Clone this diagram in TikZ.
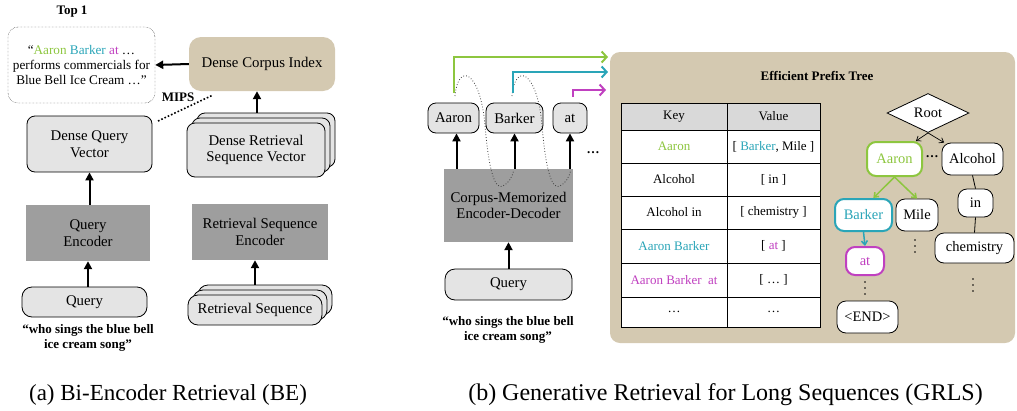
\documentclass[tikz,border=0pt]{standalone}
\usepackage{fontspec}
\setmainfont{Liberation Serif}
\usetikzlibrary{arrows.meta,shapes.geometric,shadows}
\definecolor{aaroncol}{HTML}{8DC63F}
\definecolor{barkercol}{HTML}{2AA5B8}
\definecolor{atcol}{HTML}{C040C0}
\definecolor{panelbg}{HTML}{D4C9B1}
\definecolor{boxgray}{HTML}{E4E4E4}
\definecolor{encgray}{HTML}{9E9E9E}
\definecolor{hdrgray}{HTML}{D9D9D9}
\tikzset{
  txt/.style={font=\fontsize{14.8}{16.5}\selectfont, align=center, inner sep=0pt},
  boldtxt/.style={txt, font=\bfseries\fontsize{13}{15.5}\selectfont},
  sz/.style 2 args={minimum width=#1pt, minimum height=#2pt},
  lightbox/.style={txt, draw, fill=boxgray, rounded corners=8pt, line width=0.8pt},
  stackbox/.style={lightbox, double copy shadow={shadow xshift=5pt, shadow yshift=5pt, fill=boxgray, draw=black, line width=0.8pt}},
  encbox/.style={txt, fill=encgray},
  cell/.style={font=\fontsize{13}{15}\selectfont, inner sep=0pt},
  treenode/.style={txt, font=\fontsize{14.5}{16}\selectfont, draw, fill=white, rounded corners=9pt, line width=0.8pt},
  hitnode/.style={treenode, line width=2pt, draw=#1, text=#1},
  uparrow/.style={line width=2pt, -{Triangle[length=8pt,width=8pt]}},
  inarrow/.style={line width=2pt, -{Straight Barb[length=5pt,width=11pt]}},
  treearrow/.style={line width=0.7pt, -{Straight Barb[length=4pt,width=6pt]}},
  vdotsline/.style={line width=1.8pt, line cap=round, dash pattern=on 0pt off 6pt},
}
\begin{document}
\begin{tikzpicture}[x=1pt,y=-1pt]
\useasboundingbox (0,0) rectangle (1017,410);
\draw
  (72,12) node[boldtxt] (top){Top 1}
  (81.5,65) node[txt, sz={147}{76}, draw, densely dotted, rounded corners=10pt, font=\fontsize{13.2}{15}\selectfont] (topdoc){“\textcolor{aaroncol}{Aaron} \textcolor{barkercol}{Barker} \textcolor{atcol}{at} …\\performs commercials for\\Blue Bell Ice Cream …”}
  (262,64) node[txt, sz={146}{54}, fill=panelbg, rounded corners=12pt] (index){Dense Corpus Index}
  (178,97) node[boldtxt] (mips){MIPS}
  (89.5,144) node[lightbox, sz={125}{56}] (qvec){Dense Query\\Vector}
  (256,150) node[stackbox, sz={138}{54}] (svec){Dense Retrieval\\Sequence Vector}
  (88,233) node[encbox, sz={124}{56}] (qenc){Query\\Encoder}
  (260,232) node[encbox, sz={136}{56}] (senc){Retrieval Sequence\\Encoder}
  (84.5,302) node[lightbox, sz={125}{30}, rounded corners=10pt] (query){Query}
  (255,310) node[stackbox, sz={134}{30}, rounded corners=10pt] (seq){Retrieval Sequence}
  (88,338) node[boldtxt] (qtext){“who sings the blue bell\\ice cream song”}
  (168,395) node[txt, font=\fontsize{23}{25}\selectfont] (capa){(a) Bi-Encoder Retrieval (BE)};
\coordinate (mipsa) at (158,121);
\coordinate (mipsb) at (213,95);
\begin{scope}[uparrow]
  \draw (index.west) -- (topdoc.east);
  \draw ([xshift=1pt,yshift=10pt]svec.north) -- ([xshift=1pt]svec.north |- index.south);
  \draw (qenc.north -| qvec.south) -- (qvec.south);
  \draw (query.north -| qenc.south) -- (qenc.south);
  \draw ([yshift=10pt]seq.north) -- (seq.north |- senc.south);
\end{scope}
\draw[line width=1.6pt, dotted] (mipsa) -- (mipsb);
\node[fill=panelbg, rounded corners=10pt, sz={405}{291}] (panel) at (812.5,197.5) {};
\draw
  (453.5,118) node[lightbox, sz={51}{30}] (aaron){Aaron}
  (514.5,118) node[lightbox, sz={57}{30}] (barker){Barker}
  (570,118) node[lightbox, sz={34}{30}] (atok){at}
  (593,153) node[boldtxt] (more){…}
  (508.5,205.5) node[encbox, sz={129}{73}] (decoder){Corpus-Memorized\\Encoder-Decoder}
  (508.5,284.5) node[lightbox, sz={127}{31}, rounded corners=10pt] (query2){Query}
  (508,330) node[boldtxt] (qtext2){“who sings the blue bell\\ice cream song”}
  (725.5,395) node[txt, font=\fontsize{24}{26}\selectfont] (capb){(b) Generative Retrieval for Long Sequences (GRLS)};
\coordinate (in1) at (608,57);
\coordinate (in2) at (608,72);
\coordinate (in3) at (606,90);
\begin{scope}[uparrow]
  \draw (aaron.south |- decoder.north) ++(3,0) -- ([xshift=3pt]aaron.south);
  \draw (barker.south |- decoder.north) -- (barker.south);
  \draw (atok.south |- decoder.north) -- (atok.south);
  \draw (query2.north) -- (decoder.south);
\end{scope}
\draw[dotted, black!75, line width=0.8pt]
  (455,96) .. controls (458,62) and (480,70) .. (485,125) .. controls (489,175) and (496,190) .. (503,186) .. controls (509,183) and (512,177) .. (514,170)
  (512,96) .. controls (515,62) and (537,70) .. (542,125) .. controls (546,175) and (553,190) .. (560,186) .. controls (566,183) and (569,177) .. (571,170);
\draw[inarrow, aaroncol] ([yshift=10pt]aaron.north) |- (in1);
\draw[inarrow, barkercol] ([xshift=-1.5pt,yshift=10pt]barker.north) |- (in2);
\draw[inarrow, atcol] ([xshift=3pt,yshift=6pt]atok.north) |- (in3);
\node[boldtxt] (title) at (817,76) {Efficient Prefix Tree};
\draw[line width=0.9pt, fill=hdrgray] (621,103) rectangle (820,130);
\draw[line width=0.9pt, fill=white] (621,130) rectangle (820,327);
\foreach \y in {163,196,229,263,297}
  \draw[line width=0.9pt] (621,\y) -- (820,\y);
\draw[line width=0.9pt] (727,103) -- (727,327);
\draw
  (674,116.5) node[cell] (k0){Key}
  (773.5,116.5) node[cell] (v0){Value}
  (674,146.5) node[cell, text=aaroncol] (k1){Aaron}
  (773.5,146.5) node[cell] (v1){[ \textcolor{barkercol}{Barker}, Mile ]}
  (674,179.5) node[cell] (k2){Alcohol}
  (773.5,179.5) node[cell] (v2){[ in ]}
  (674,212.5) node[cell] (k3){Alcohol in}
  (773.5,212.5) node[cell] (v3){[ chemistry ]}
  (674,246) node[cell, text=barkercol] (k4){Aaron Barker}
  (773.5,246) node[cell] (v4){[ \textcolor{atcol}{at} ]}
  (674,280) node[cell, text=atcol] (k5){Aaron Barker\ \ at}
  (773.5,280) node[cell] (v5){[ … ]}
  (674,312) node[cell] (k6){…}
  (773.5,312) node[cell] (v6){…};
\draw
  (928,113) node[treenode, diamond, rounded corners=0pt, sz={82}{39}] (root){Root}
  (894.5,159) node[hitnode=aaroncol, sz={55}{34}] (taaron){Aaron}
  (932,157) node[boldtxt] (tmore){…}
  (972.5,159) node[treenode, sz={61}{32}] (talcohol){Alcohol}
  (863.5,215) node[hitnode=barkercol, sz={57}{32}] (tbarker){Barker}
  (917,215) node[treenode, sz={42}{32}] (tmile){Mile}
  (975.5,203) node[treenode, sz={35}{28}] (tin){in}
  (974.5,248) node[treenode, sz={79}{30}] (tchem){chemistry}
  (865,261) node[hitnode=atcol, sz={38}{28}] (tat){at}
  (867.5,317) node[treenode, sz={61}{32}] (tend){<END>};
\begin{scope}[treearrow]
  \draw (root.south) -- (taaron.40);
  \draw (root.south) -- (talcohol.150);
  \draw[aaroncol, line width=1.5pt] (taaron.south) -- (tbarker.60);
  \draw[aaroncol, line width=1.5pt] (taaron.south) -- (tmile.north);
  \draw[barkercol, line width=1.5pt] (tbarker.south) -- (tat.north);
\end{scope}
\draw[line width=0.8pt] (talcohol.south) -- (tin.north);
\draw[line width=0.8pt] (tin.south) -- (tchem.north);
\draw[vdotsline] (865,282) -- (865,298);
\draw[vdotsline] (915,240) -- (915,256);
\draw[vdotsline] (973,279) -- (973,295);
\end{tikzpicture}
\end{document}
